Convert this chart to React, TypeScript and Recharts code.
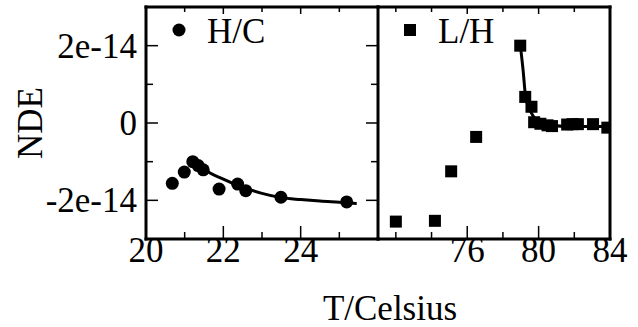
import { ComposedChart, Scatter, Line, XAxis, YAxis, Legend } from 'recharts'

// H/C run (left panel), NDE in units of 1e-14
const hcT = [20.68, 20.99, 21.21, 21.35, 21.48, 21.89, 22.37, 22.58, 23.49, 25.19]
const hcNDE = [-1.56, -1.27, -1.0, -1.1, -1.21, -1.71, -1.58, -1.75, -1.92, -2.04]
const hcFitT = [21.27, 21.5, 22.0, 22.5, 23.0, 23.5, 24.0, 24.5, 25.0, 25.45]
const hcFitNDE = [-0.92, -1.18, -1.45, -1.66, -1.82, -1.93, -1.98, -2.02, -2.05, -2.08]

// L/H run (right panel)
const lhT = [72.0, 74.19, 75.1, 76.5, 78.97, 79.25, 79.6, 79.75, 80.1, 80.5, 80.75, 81.6, 81.9, 82.2, 83.05, 83.85]
const lhNDE = [-2.55, -2.53, -1.25, -0.36, 2.0, 0.675, 0.42, 0.02, -0.02, -0.06, -0.08, -0.04, -0.03, -0.03, -0.03, -0.12]
const lhFitT = [78.98, 79.13, 79.26, 79.44, 79.72, 80.09, 80.65, 81.77, 83.9]
const lhFitNDE = [1.99, 1.37, 0.72, 0.41, 0.16, 0.03, -0.06, -0.09, -0.09]

const hcTicks = [20, 21, 22, 23, 24, 25, 26]
const hcMajor = [20, 22, 24]
const lhTicks = [72, 74, 76, 78, 80, 82, 84]
const lhMajor = [76, 80, 84]
const ndeTicks = [-2e-14, -1e-14, 0, 1e-14, 2e-14]
const ndeMajor = [-2e-14, 0, 2e-14]

const FONT = '"Liberation Serif", "Times New Roman", Times, serif'
const axisLine = { stroke: '#000', strokeWidth: 3, strokeLinecap: 'square' as const }

const pts = (xs: number[], ys: number[]) => xs.map((x, i) => ({ x, y: ys[i] * 1e-14 }))

const fmtNde = (v: number) => (v === 0 ? '0' : `${Math.round(v * 1e14)}e-14`)

function BottomTick({ x, y, payload, majors }: any) {
  const major = majors.includes(payload.value)
  return (
    <g>
      <line x1={x} x2={x} y1={y} y2={y - (major ? 13 : 7)} stroke="#000" strokeWidth={1.5} />
      {major && (
        <text x={x} y={y + 23} textAnchor="middle" fontSize={35} fontFamily={FONT} fill="#000">
          {payload.value}
        </text>
      )}
    </g>
  )
}

function TopTick({ x, y, payload, majors }: any) {
  const major = majors.includes(payload.value)
  // y sits on the outer edge of the 1px axis band
  return <line x1={x} x2={x} y1={y + 1} y2={y + 1 + (major ? 6 : 4)} stroke="#000" strokeWidth={1.5} />
}

function LeftTick({ x, y, payload }: any) {
  const major = ndeMajor.includes(payload.value)
  return (
    <g>
      <line x1={x} x2={x + (major ? 12 : 7)} y1={y} y2={y} stroke="#000" strokeWidth={1.5} />
      {major && (
        <text x={x - 9} y={y + 12} textAnchor="end" fontSize={35} fontFamily={FONT} fill="#000">
          {fmtNde(payload.value)}
        </text>
      )}
    </g>
  )
}

function RightTick({ x, y, payload }: any) {
  const major = ndeMajor.includes(payload.value)
  return <line x1={x} x2={x - (major ? 12 : 7)} y1={y} y2={y} stroke="#000" strokeWidth={1.5} />
}

const dotShape = (p: any) => <circle cx={p.cx} cy={p.cy} r={6.5} fill="#000" />
const squareShape = (p: any) => <rect x={p.cx - 6} y={p.cy - 6} width={12} height={12} fill="#000" />

function LegendItem({ kind, text }: { kind: 'circle' | 'square'; text: string }) {
  return (
    <svg width={120} height={44} style={{ overflow: 'visible' }}>
      {kind === 'circle' ? <circle cx={14} cy={20} r={6.5} fill="#000" /> : <rect x={8} y={14} width={12} height={12} fill="#000" />}
      <text x={42} y={33} fontSize={35} fontFamily={FONT} fill="#000">
        {text}
      </text>
    </svg>
  )
}

export default function App() {
  return (
    <div style={{ position: 'absolute', left: 0, top: 0, width: 638, height: 327, background: '#fff' }}>
      <div style={{ position: 'absolute', left: 0, top: 0 }}>
        <ComposedChart width={380} height={327} margin={{ top: 6, right: 1, bottom: 0, left: 0 }}>
          <XAxis
            xAxisId="b"
            dataKey="x"
            type="number"
            domain={[20, 26]}
            ticks={hcTicks}
            interval={0}
            height={88}
            tickSize={0}
            tickMargin={0}
            tickLine={false}
            axisLine={axisLine}
            tick={(p: any) => <BottomTick {...p} majors={hcMajor} />}
            allowDataOverflow
          />
          <XAxis
            xAxisId="t"
            orientation="top"
            dataKey="x"
            type="number"
            domain={[20, 26]}
            ticks={hcTicks}
            interval={0}
            height={1}
            tickSize={0}
            tickMargin={0}
            tickLine={false}
            axisLine={axisLine}
            tick={(p: any) => <TopTick {...p} majors={hcMajor} />}
            allowDataOverflow
          />
          <YAxis
            yAxisId="l"
            dataKey="y"
            type="number"
            domain={[-3e-14, 3e-14]}
            ticks={ndeTicks}
            interval={0}
            width={146}
            tickSize={0}
            tickMargin={0}
            tickLine={false}
            axisLine={axisLine}
            tick={LeftTick}
            allowDataOverflow
            label={{
              content: (p: any) => (
                <text
                  transform={`translate(${p.viewBox.x + 30}, ${p.viewBox.y + p.viewBox.height / 2}) rotate(-90)`}
                  y={12}
                  textAnchor="middle"
                  fontSize={35}
                  fontFamily={FONT}
                  fill="#000"
                >
                  NDE
                </text>
              ),
            }}
          />
          <YAxis
            yAxisId="r"
            orientation="right"
            dataKey="y"
            type="number"
            domain={[-3e-14, 3e-14]}
            ticks={ndeTicks}
            interval={0}
            width={1}
            tickSize={0}
            tickMargin={0}
            tickLine={false}
            axisLine={axisLine}
            tick={RightTick}
            allowDataOverflow
          />
          <Line
            xAxisId="b"
            yAxisId="l"
            data={pts(hcFitT, hcFitNDE)}
            dataKey="y"
            type="monotone"
            stroke="#000"
            strokeWidth={3}
            dot={false}
            isAnimationActive={false}
          />
          <Scatter
            xAxisId="b"
            yAxisId="l"
            name="H/C"
            data={pts(hcT, hcNDE)}
            shape={dotShape}
            isAnimationActive={false}
          />
          <Legend
            layout="horizontal"
            verticalAlign="middle"
            align="center"
            wrapperStyle={{ position: 'absolute', left: 165, top: 10, width: 120, height: 44 }}
            content={() => <LegendItem kind="circle" text="H/C" />}
          />
        </ComposedChart>
      </div>
      <div style={{ position: 'absolute', left: 0, top: 0 }}>
        <ComposedChart width={638} height={327} margin={{ top: 6, right: 27, bottom: 0, left: 378 }}>
          <XAxis
            xAxisId="b"
            dataKey="x"
            type="number"
            domain={[71, 84]}
            ticks={lhTicks}
            interval={0}
            height={88}
            tickSize={0}
            tickMargin={0}
            tickLine={false}
            axisLine={axisLine}
            tick={(p: any) => <BottomTick {...p} majors={lhMajor} />}
            allowDataOverflow
            label={{
              content: (p: any) => (
                <text x={p.viewBox.x + 12} y={p.viewBox.y + 81} textAnchor="middle" fontSize={35} fontFamily={FONT} fill="#000">
                  T/Celsius
                </text>
              ),
            }}
          />
          <XAxis
            xAxisId="t"
            orientation="top"
            dataKey="x"
            type="number"
            domain={[71, 84]}
            ticks={lhTicks}
            interval={0}
            height={1}
            tickSize={0}
            tickMargin={0}
            tickLine={false}
            axisLine={axisLine}
            tick={(p: any) => <TopTick {...p} majors={lhMajor} />}
            allowDataOverflow
          />
          <YAxis
            yAxisId="r"
            orientation="right"
            dataKey="y"
            type="number"
            domain={[-3e-14, 3e-14]}
            width={1}
            tick={false}
            tickLine={false}
            axisLine={axisLine}
            allowDataOverflow
          />
          <Line
            xAxisId="b"
            yAxisId="r"
            data={pts(lhFitT, lhFitNDE)}
            dataKey="y"
            type="monotone"
            stroke="#000"
            strokeWidth={3}
            dot={false}
            isAnimationActive={false}
          />
          <Scatter
            xAxisId="b"
            yAxisId="r"
            name="L/H"
            data={pts(lhT, lhNDE)}
            shape={squareShape}
            isAnimationActive={false}
          />
          <Legend
            layout="horizontal"
            verticalAlign="middle"
            align="center"
            wrapperStyle={{ position: 'absolute', left: 396, top: 10, width: 120, height: 44 }}
            content={() => <LegendItem kind="square" text="L/H" />}
          />
        </ComposedChart>
      </div>
    </div>
  )
}
